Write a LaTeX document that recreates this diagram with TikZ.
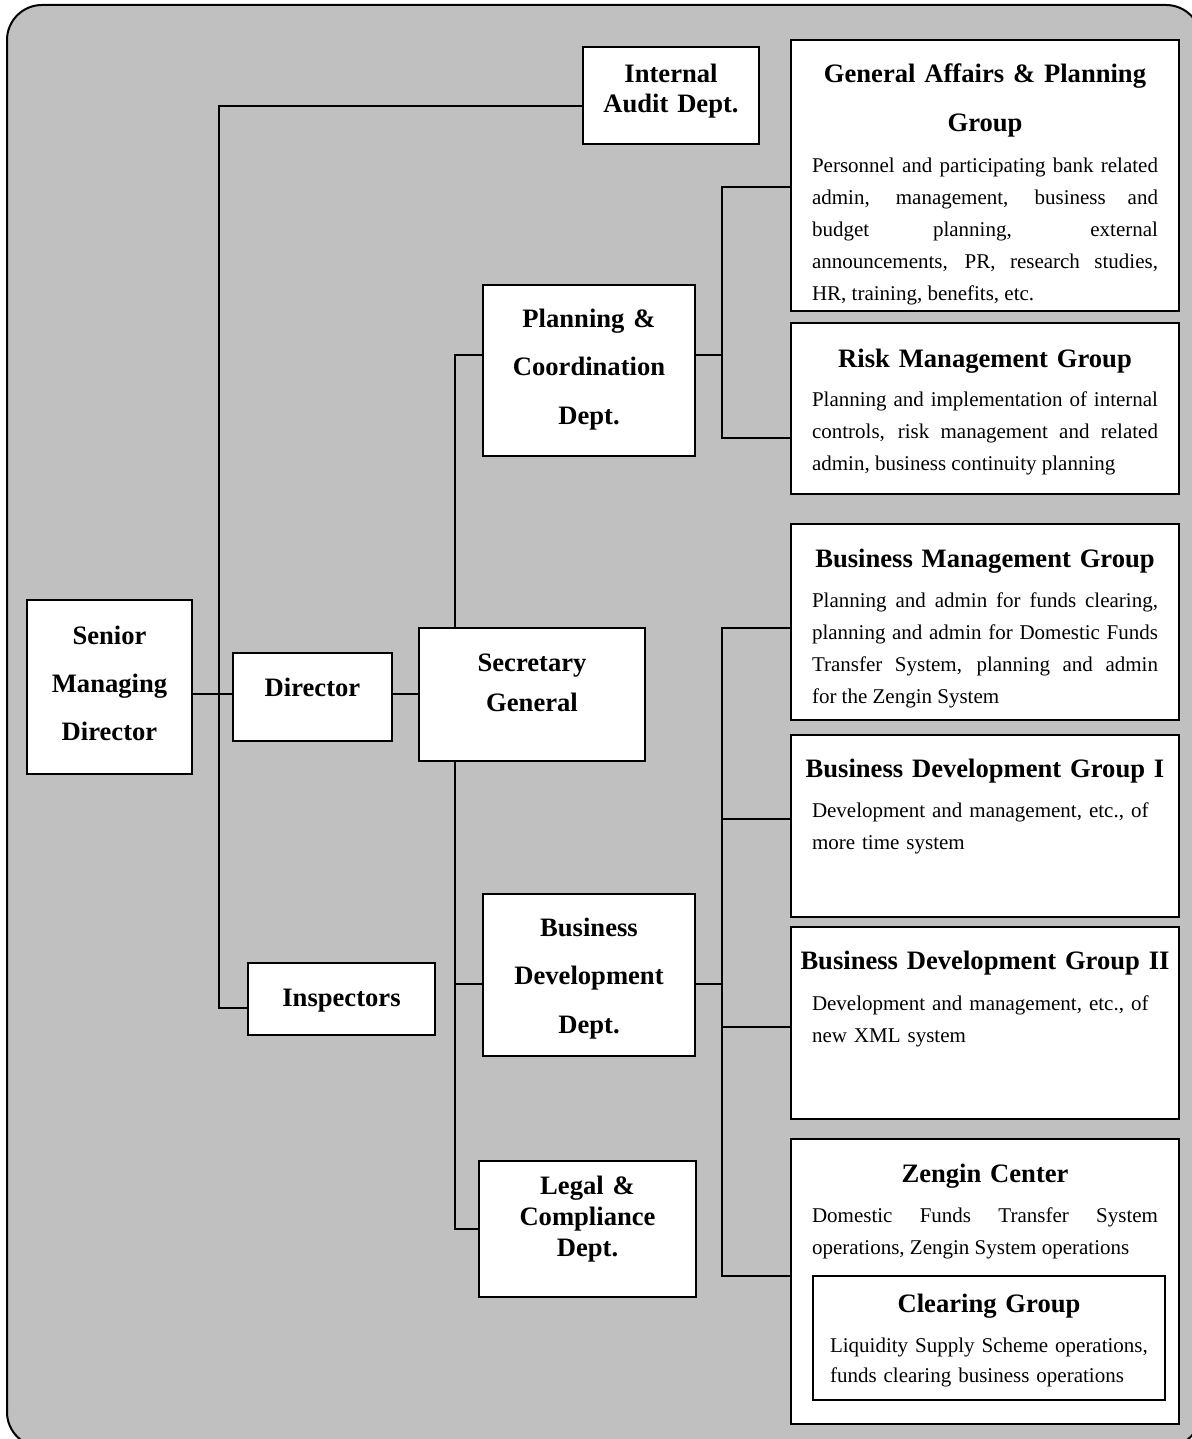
\documentclass[tikz,border=0pt]{standalone}
\usepackage{fontspec}
\setmainfont{Liberation Serif}
\usetikzlibrary{positioning}
\definecolor{bggray}{RGB}{192,192,192}
\tolerance=10000
\hyphenpenalty=10000

\begin{document}
\begin{tikzpicture}[x=0.5pt,y=-0.5pt]
\tikzstyle{unitbox}=[draw,fill=white,line width=0.8pt,inner sep=0pt];
\tikzstyle{unithead}=[inner sep=0pt,text width=194pt,align=center,anchor=base,font=\fontsize{13.3}{24}\selectfont\bfseries];
\tikzstyle{unitduty}=[inner sep=0pt,text width=173pt,align=justify,anchor=base,font=\fontsize{10.5}{16}\selectfont];
\tikzstyle{link}=[line width=0.8pt];
\useasboundingbox (0,0) rectangle (1192,1439);
\draw[fill=bggray,line width=1pt,rounded corners=17.5pt] (7,5) rectangle (1201,1447);

% left side
\node[unitbox,minimum width=82.5pt,minimum height=87pt] (smd) at (109.5,687) {};
\node[below=22.5pt of smd.north,unithead] (smdtxt) {Senior\\Managing\\Director};
\node[unitbox,minimum width=79.5pt,minimum height=44pt] (dir) at (312.5,697) {};
\node[below=22pt of dir.north,unithead] (dirtxt) {Director};
\node[unitbox,minimum width=113pt,minimum height=66.5pt] (sg) at (532,694.5) {};
\node[below=22pt of sg.north,unithead,font=\fontsize{13.3}{20}\selectfont\bfseries] (sgtxt) {Secretary\\General};
\node[unitbox,minimum width=88pt,minimum height=48.5pt] (ia) at (671,95.5) {};
\node[below=18pt of ia.north,unithead,font=\fontsize{13.3}{15}\selectfont\bfseries] (iatxt) {Internal\\Audit Dept.};
\node[unitbox,minimum width=93.5pt,minimum height=36pt] (insp) at (341.5,999) {};
\node[below=22pt of insp.north,unithead] (insptxt) {Inspectors};

% departments
\node[unitbox,minimum width=106pt,minimum height=85.5pt] (pc) at (589,370.5) {};
\node[below=21.5pt of pc.north,unithead,font=\fontsize{13.3}{24.25}\selectfont\bfseries] (pctxt) {Planning \&\\Coordination\\Dept.};
\node[unitbox,minimum width=106pt,minimum height=81pt] (bdd) at (589,975) {};
\node[below=21.5pt of bdd.north,unithead,font=\fontsize{13.3}{24.25}\selectfont\bfseries] (bddtxt) {Business\\Development\\Dept.};
\node[unitbox,minimum width=108.5pt,minimum height=68pt] (legal) at (587.5,1229) {};
\node[below=17pt of legal.north,unithead,font=\fontsize{13.3}{15.5}\selectfont\bfseries] (legaltxt) {Legal \&\\Compliance\\Dept.};

% groups
\node[unitbox,minimum width=194pt,minimum height=135.5pt] (gap) at (985,175.5) {};
\node[below=21.5pt of gap.north,unithead,font=\fontsize{13.3}{24.5}\selectfont\bfseries] (gaptitle) {General Affairs \& Planning\\Group};
\node[below=66.5pt of gap.north,unitduty] (gapduty) {Personnel and participating bank related\linebreak admin, management, business and\linebreak budget planning, external\linebreak announcements, PR, research studies,\linebreak HR, training, benefits, etc.};

\node[unitbox,minimum width=194pt,minimum height=85.5pt] (rmg) at (985,408.5) {};
\node[below=22.5pt of rmg.north,unithead] (rmgtitle) {Risk Management Group};
\node[below=42pt of rmg.north,unitduty] (rmgduty) {Planning and implementation of internal\linebreak controls, risk management and related\linebreak admin, business continuity planning};

\node[unitbox,minimum width=194pt,minimum height=98pt] (bmg) at (985,622) {};
\node[below=22pt of bmg.north,unithead] (bmgtitle) {Business Management Group};
\node[below=42pt of bmg.north,unitduty] (bmgduty) {Planning and admin for funds clearing,\linebreak planning and admin for Domestic Funds\linebreak Transfer System, planning and admin\linebreak for the Zengin System};

\node[unitbox,minimum width=194pt,minimum height=91pt] (bdg1) at (985,826) {};
\node[below=21.5pt of bdg1.north,unithead] (bdg1title) {Business Development Group I};
\node[below=41.5pt of bdg1.north,unitduty,align=left] (bdg1duty) {Development and management, etc., of\\more time system};

\node[unitbox,minimum width=194pt,minimum height=96pt] (bdg2) at (985,1023) {};
\node[below=21.5pt of bdg2.north,unithead] (bdg2title) {Business Development Group II};
\node[below=42pt of bdg2.north,unitduty,align=left] (bdg2duty) {Development and management, etc., of\\new XML system};

\node[unitbox,minimum width=194pt,minimum height=142.5pt] (zc) at (985,1281.5) {};
\node[below=22pt of zc.north,unithead] (zctitle) {Zengin Center};
\node[below=42pt of zc.north,unitduty] (zcduty) {Domestic Funds Transfer System\linebreak operations, Zengin System operations};
\node[unitbox,minimum width=176pt,minimum height=62pt] (clr) at (989,1338) {};
\node[below=18.5pt of clr.north,unithead] (clrtitle) {Clearing Group};
\node[below=38.5pt of clr.north,unitduty,text width=159pt,align=left,font=\fontsize{10.5}{15}\selectfont] (clrduty) {Liquidity Supply Scheme operations,\\funds clearing business operations};

% junctions
\coordinate (jia) at (219,106);
\coordinate (jinsp) at (219,1008);
\coordinate (jdir) at (219,694);
\coordinate (jpc) at (455,355);
\coordinate (jbdd) at (455,984);
\coordinate (jlegal) at (455,1229);
\coordinate (jgap) at (722,187);
\coordinate (jrmg) at (722,438);
\coordinate (jbmg) at (722,628);
\coordinate (jbdg1) at (722,819);
\coordinate (jbdg2) at (722,1027);
\coordinate (jzc) at (722,1276);

\draw[link] (ia.west |- jia) -- (jia) -- (jinsp) -- (insp.west |- jinsp);
\draw[link] (smd.east |- jdir) -- (dir.west |- jdir);
\draw[link] (dir.east |- jdir) -- (sg.west |- jdir);
\draw[link] (pc.west |- jpc) -- (jpc) -- (sg.north -| jpc);
\draw[link] (sg.south -| jpc) -- (jlegal) -- (legal.west |- jlegal);
\draw[link] (jbdd) -- (bdd.west |- jbdd);
\draw[link] (pc.east |- jpc) -- (jgap |- jpc);
\draw[link] (gap.west |- jgap) -- (jgap) -- (jrmg) -- (rmg.west |- jrmg);
\draw[link] (bdd.east |- jbdd) -- (jbmg |- jbdd);
\draw[link] (bmg.west |- jbmg) -- (jbmg) -- (jzc) -- (zc.west |- jzc);
\draw[link] (jbdg1) -- (bdg1.west |- jbdg1);
\draw[link] (jbdg2) -- (bdg2.west |- jbdg2);
\end{tikzpicture}
\end{document}
